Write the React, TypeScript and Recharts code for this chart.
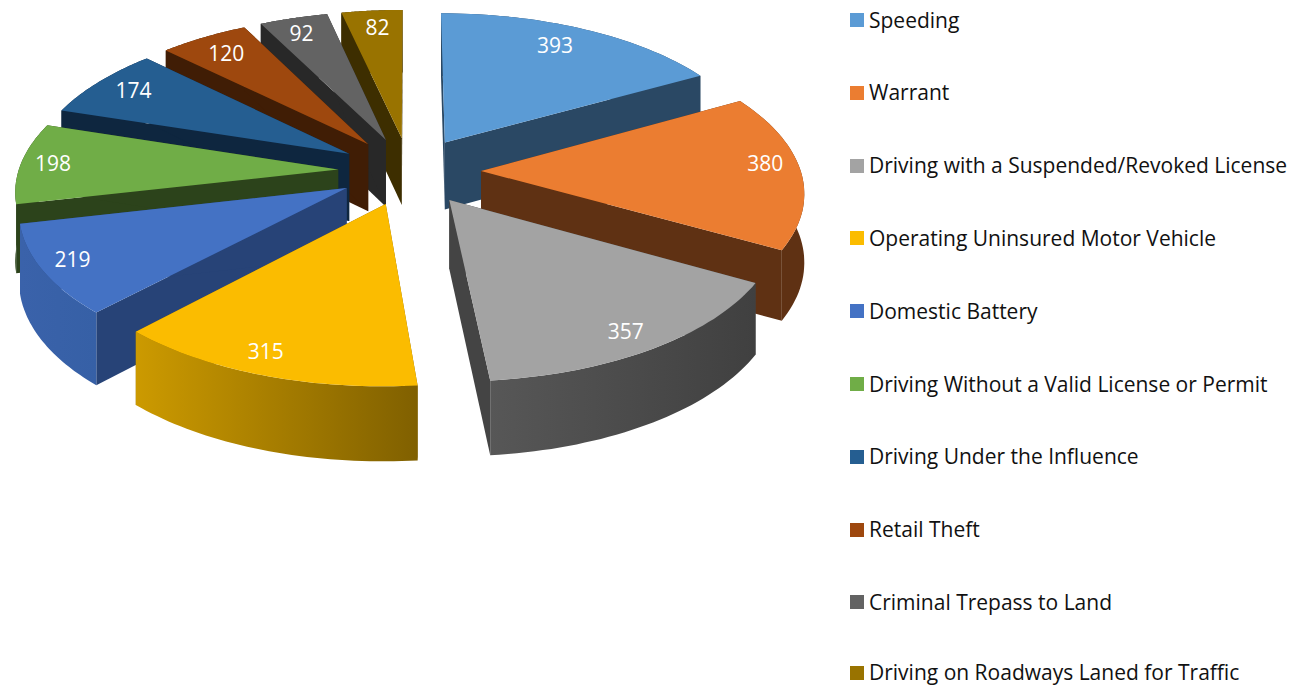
import { Legend, Pie, PieChart } from "recharts";

const categories = [
  "Speeding",
  "Warrant",
  "Driving with a Suspended/Revoked License",
  "Operating Uninsured Motor Vehicle",
  "Domestic Battery",
  "Driving Without a Valid License or Permit",
  "Driving Under the Influence",
  "Retail Theft",
  "Criminal Trepass to Land",
  "Driving on Roadways Laned for Traffic",
];
const values = [393, 380, 357, 315, 219, 198, 174, 120, 92, 82];
const topColors = ["#5B9BD5", "#EB7D31", "#A3A3A3", "#FBBC00", "#4472C4", "#70AD47", "#255E91", "#9E480E", "#636363", "#997300"];
const edgeColors = ["#2A4864", "#5F3113", "#444444", "#806000", "#274377", "#2C431B", "#0E263F", "#401D05", "#282828", "#3D2E00"];
const wallLeft = ["#2A4864", "#5F3113", "#575757", "#CC9A00", "#3A62AA", "#2C431B", "#0E263F", "#401D05", "#282828", "#3D2E00"];
const wallRight = ["#2A4864", "#5F3113", "#404040", "#806000", "#3660A6", "#2C431B", "#0E263F", "#401D05", "#282828", "#3D2E00"];

// back to front, so nearer slices paint over the walls behind them
const drawOrder = [9, 8, 7, 6, 5, 4, 0, 1, 2, 3];

// small hand offsets for the value labels, which do not sit at one fixed radius
const labelNudgeX = [-13, 6, 2, -14, -12, -9, 4, 3, -3, 2];
const labelNudgeY = [2, -8, 4, 1, 0, -1, -1, 3, 0, 1];

const chartData = categories.map((name, i) => ({ name, value: values[i] }));

const CX = 409.5;
const CY = 171;
const EXPLODE = 0.2236;

// flat pie coordinates (unit radius, y pointing away) to the tilted view
function project(x: number, y: number, down = 0) {
  const s = 319.7 / (1 + 0.122 * y);
  return {
    x: CX + s * x,
    y: CY - 0.4737 * y * s + down * (27 + 0.128 * s),
  };
}

function pathOf(points: { x: number; y: number }[]) {
  return points.map((p, i) => `${i ? "L" : "M"}${p.x.toFixed(1)} ${p.y.toFixed(1)}`).join(" ") + " Z";
}

function Slice3D(props: any, layer: number) {
  if (props.name !== categories[layer]) return null;
  const rad = Math.PI / 180;
  const mid = props.midAngle * rad;
  const ox = EXPLODE * Math.cos(mid);
  const oy = EXPLODE * Math.sin(mid);
  const a0 = Math.max(props.startAngle, props.endAngle);
  const a1 = Math.min(props.startAngle, props.endAngle);

  const arcAt = (down: number) => {
    const pts = [];
    const steps = 40;
    for (let i = 0; i <= steps; i++) {
      const a = (a0 + ((a1 - a0) * i) / steps) * rad;
      pts.push(project(ox + Math.cos(a), oy + Math.sin(a), down));
    }
    return pts;
  };

  const top = arcAt(0);
  const bottom = arcAt(1);
  const tip = project(ox, oy);
  const tipLow = project(ox, oy, 1);
  const gradId = `wall-${layer}`;
  const labelR = 0.87;
  const lp = project(ox + labelR * Math.cos(mid), oy + labelR * Math.sin(mid));

  return (
    <g>
      <defs>
        <linearGradient id={gradId} x1="0" y1="0" x2="1" y2="0">
          <stop offset="0%" stopColor={wallLeft[layer]} />
          <stop offset="100%" stopColor={wallRight[layer]} />
        </linearGradient>
      </defs>
      <path d={pathOf([tip, top[0], bottom[0], tipLow])} fill={edgeColors[layer]} />
      <path d={pathOf([tip, top[40], bottom[40], tipLow])} fill={edgeColors[layer]} />
      <path d={pathOf([...top, ...[...bottom].reverse()])} fill={`url(#${gradId})`} />
      <path d={pathOf([tip, ...top])} fill={topColors[layer]} />
      <text
        x={lp.x + labelNudgeX[layer]}
        y={lp.y + labelNudgeY[layer]}
        textAnchor="middle"
        dominantBaseline="central"
        fill="#FFFFFF"
        fontSize={21}
        fontFamily="'Open Sans', sans-serif"
      >
        {props.value}
      </text>
    </g>
  );
}

function LegendList() {
  return (
    <div style={{ position: "relative", width: 450, height: 687 }}>
      {categories.map((name, i) => (
        <div
          key={name}
          style={{
            position: "absolute",
            left: 0,
            top: Math.min(20 + 72.8 * i, 672.5) - 11,
            height: 22,
            display: "flex",
            alignItems: "center",
            whiteSpace: "nowrap",
          }}
        >
          <span style={{ width: 14, height: 14, background: topColors[i], marginRight: 5 }} />
          <span style={{ fontFamily: "'Open Sans', sans-serif", fontSize: 21, lineHeight: "21px", color: "#111" }}>{name}</span>
        </div>
      ))}
    </div>
  );
}

export default function App() {
  return (
    <div style={{ position: "absolute", left: 0, top: 0, width: 1300, height: 687, overflow: "hidden", background: "#fff" }}>
      <PieChart width={1300} height={687} margin={{ top: 0, right: 0, bottom: 0, left: 0 }}>
        {drawOrder.map((layer) => (
          <Pie
            key={layer}
            data={chartData}
            dataKey="value"
            nameKey="name"
            cx={CX}
            cy={CY}
            outerRadius={100}
            startAngle={90}
            endAngle={-270}
            stroke="none"
            isAnimationActive={false}
            shape={(p: any) => Slice3D(p, layer)}
          />
        ))}
        <Legend content={<LegendList />} wrapperStyle={{ position: "absolute", left: 850, top: 0, width: 450, height: 687 }} />
      </PieChart>
    </div>
  );
}
